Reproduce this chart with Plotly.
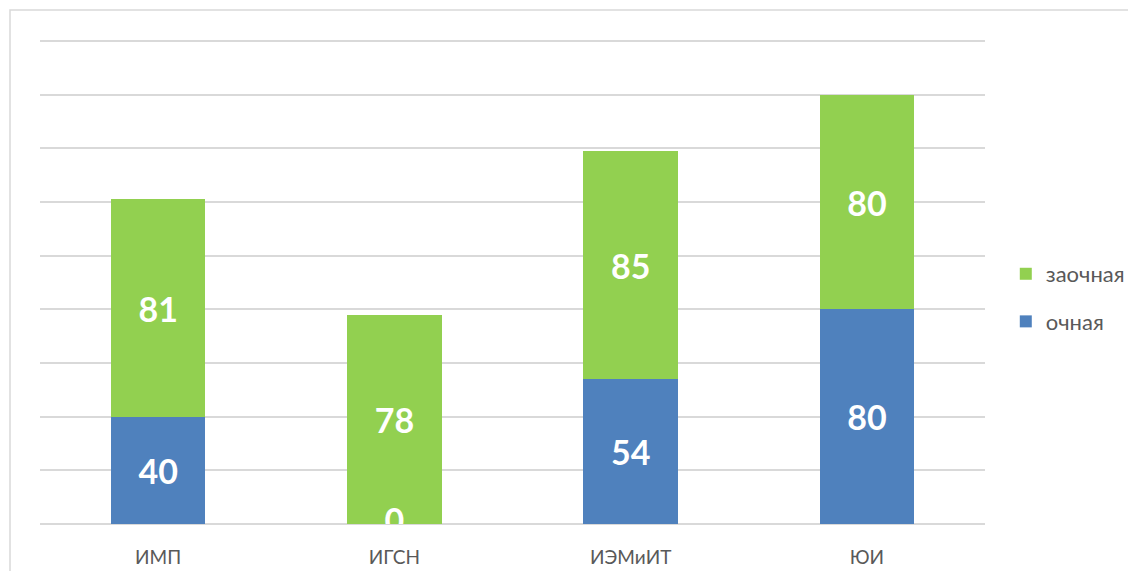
import plotly.graph_objects as go

categories = ["ИМП", "ИГСН", "ИЭМиИТ", "ЮИ"]
ochnaya = [40, 0, 54, 80]
zaochnaya = [81, 78, 85, 80]
series_names = ["очная", "заочная"]
colors = ["#4F81BD", "#92D050"]

FONT = "Lato, Open Sans, sans-serif"
label_font = dict(family=FONT, size=34, color="white", weight="bold")

fig = go.Figure()

def labels(vals):
    return [str(v) if v != 0 else "" for v in vals]

fig.add_trace(go.Bar(
    x=categories, y=ochnaya, name=series_names[0], marker_color=colors[0],
    marker_line_width=0, text=labels(ochnaya), textposition="inside",
    insidetextanchor="middle", textangle=0, textfont=label_font,
    legendrank=2, legendgroup="o", hoverinfo="skip"))
fig.add_trace(go.Bar(
    x=categories, y=zaochnaya, name=series_names[1], marker_color=colors[1],
    marker_line_width=0, text=labels(zaochnaya), textposition="inside",
    insidetextanchor="middle", textangle=0, textfont=label_font,
    legendrank=1, legendgroup="z", hoverinfo="skip"))

# zero-valued labels (drawn at the base, clipped by the plot area)
zx = [c for c, v in zip(categories, ochnaya) if v == 0]
zy = [v for v in ochnaya if v == 0]
fig.add_trace(go.Scatter(
    x=zx, y=zy, mode="text", text=[str(v) for v in zy], textposition="middle center",
    textfont=label_font, cliponaxis=True, showlegend=False, hoverinfo="skip"))

# page body has an 8px offset; plot area targeted at window x 40..985, y 40..524
fig.update_layout(
    barmode="stack",
    bargap=0.6,
    width=1120, height=563,
    margin=dict(l=32, r=143, t=32, b=47, autoexpand=False),
    paper_bgcolor="white", plot_bgcolor="white",
    font=dict(family=FONT, color="#595959"),
    showlegend=True,
    legend=dict(
        x=1.022, xanchor="left", xref="paper", y=0.467, yanchor="middle",
        traceorder="grouped", tracegroupgap=16,
        font=dict(size=22, color="#595959"),
        itemwidth=30,
    ),
    xaxis=dict(
        showgrid=False, showline=False, ticks="", automargin=False,
        tickfont=dict(size=19, color="#595959"),
        ticklabelstandoff=20,
    ),
    yaxis=dict(
        range=[0, 180.4], dtick=20, showticklabels=False, automargin=False,
        showgrid=True, gridcolor="#d9d9d9", gridwidth=1.5,
        zeroline=True, zerolinecolor="#d9d9d9", zerolinewidth=2,
        ticks="", fixedrange=True,
    ),
    shapes=[dict(
        type="rect", xref="paper", yref="paper",
        x0=-30 / 945, x1=1.3, y0=-0.3, y1=514 / 484,
        line=dict(color="#d9d9d9", width=1.5), fillcolor="rgba(0,0,0,0)",
        layer="below")],
)

fig.write_html("out.html")
